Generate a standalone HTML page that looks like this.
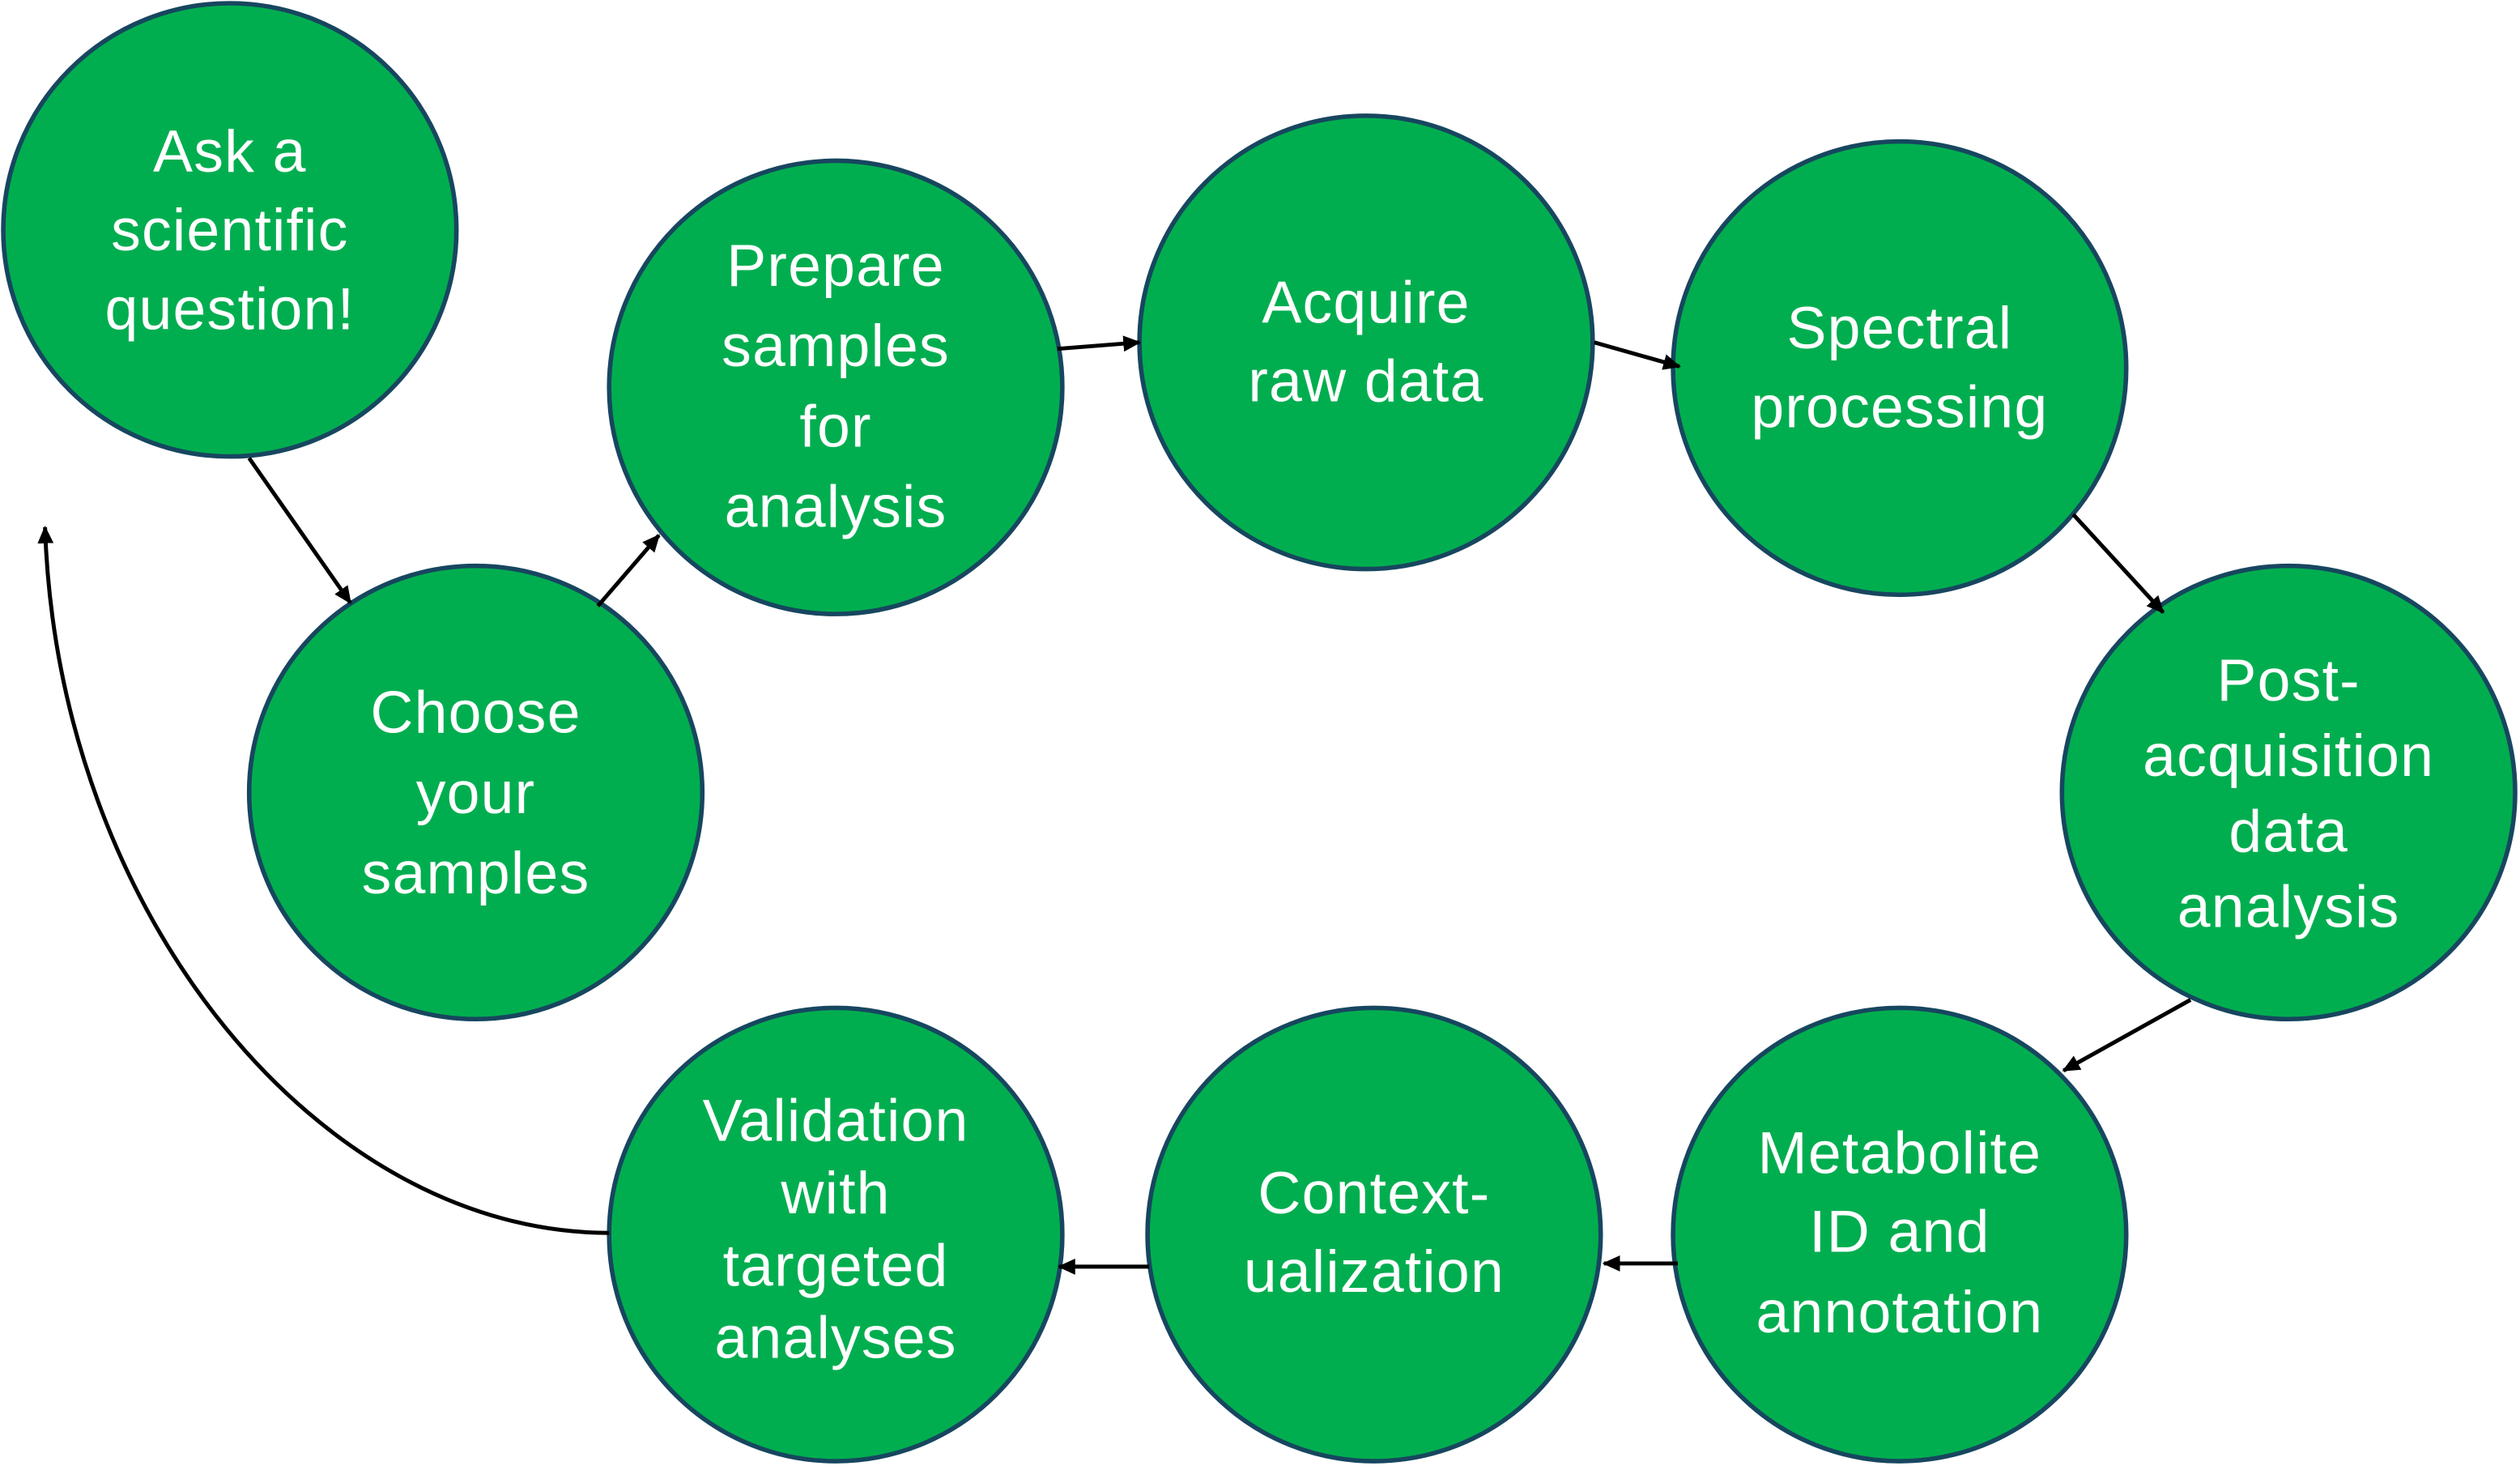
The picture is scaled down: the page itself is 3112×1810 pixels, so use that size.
<!DOCTYPE html>
<html><head><meta charset="utf-8"><style>html,body{margin:0;padding:0;background:#fff}svg{display:block}</style></head>
<body>
<svg width="3112" height="1810" viewBox="0 0 1568 912" xmlns="http://www.w3.org/2000/svg">
<defs><marker id="a" markerWidth="11" markerHeight="10" refX="10" refY="5" orient="auto" markerUnits="userSpaceOnUse"><path d="M0,0 L11,5 L0,10 Z" fill="#000"/></marker></defs>
<g fill="#00AE4F" stroke="#17465F" stroke-width="2.8">
<circle cx="143" cy="143" r="141"/>
<circle cx="296" cy="493" r="141"/>
<circle cx="520" cy="241" r="141"/>
<circle cx="850" cy="213" r="141"/>
<circle cx="1182" cy="229" r="141"/>
<circle cx="1424" cy="493" r="141"/>
<circle cx="1182" cy="768" r="141"/>
<circle cx="855" cy="768" r="141"/>
<circle cx="520" cy="768" r="141"/>
</g>
<g stroke="#000" stroke-width="2.5" fill="none" marker-end="url(#a)">
<line x1="155" y1="285" x2="218" y2="375"/>
<line x1="372" y1="377" x2="410" y2="333"/>
<line x1="658" y1="217" x2="709" y2="213"/>
<line x1="992" y1="213" x2="1045" y2="228"/>
<line x1="1290" y1="320" x2="1346" y2="381"/>
<line x1="1363" y1="622" x2="1284" y2="666"/>
<line x1="1044" y1="786" x2="998" y2="786"/>
<line x1="715" y1="788" x2="659" y2="788"/>
<path d="M379,767 C200,767 36,570 28,328"/>
</g>
<g fill="#fff" font-family="Liberation Sans, sans-serif" font-size="37" text-anchor="middle" dominant-baseline="middle" letter-spacing="0.6">
<text x="143" y="97">Ask a</text><text x="143" y="146">scientific</text><text x="143" y="195">question!</text>
<text x="296" y="446">Choose</text><text x="296" y="496">your</text><text x="296" y="546">samples</text>
<text x="520" y="168">Prepare</text><text x="520" y="218">samples</text><text x="520" y="268">for</text><text x="520" y="318">analysis</text>
<text x="850" y="191">Acquire</text><text x="850" y="240">raw data</text>
<text x="1182" y="207">Spectral</text><text x="1182" y="256">processing</text>
<text x="1424" y="426">Post-</text><text x="1424" y="473">acquisition</text><text x="1424" y="520">data</text><text x="1424" y="567">analysis</text>
<text x="1182" y="720">Metabolite</text><text x="1182" y="769">ID and</text><text x="1182" y="819">annotation</text>
<text x="855" y="745">Context-</text><text x="855" y="794">ualization</text>
<text x="520" y="700">Validation</text><text x="520" y="745">with</text><text x="520" y="790">targeted</text><text x="520" y="835">analyses</text>
</g>
</svg>
</body></html>
